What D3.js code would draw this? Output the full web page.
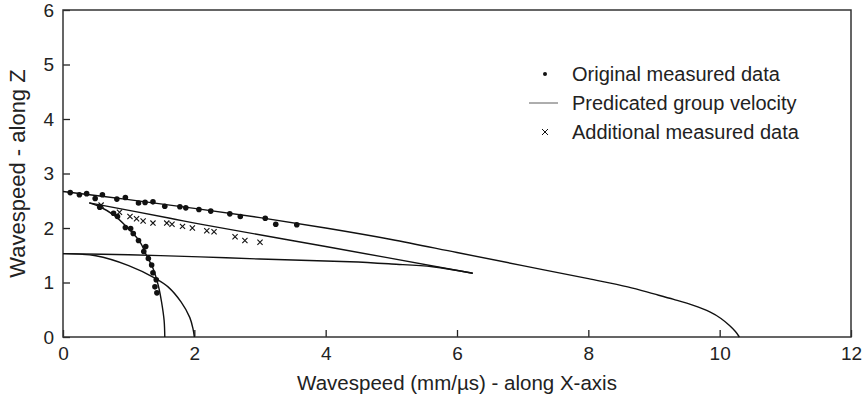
<!DOCTYPE html>
<html>
<head>
<meta charset="utf-8">
<script src="https://cdn.jsdelivr.net/npm/d3@7"></script>
<style>
  body { margin: 0; background: #fff; }
  svg { display: block; font-family: "Liberation Sans", Arial, sans-serif; }
</style>
</head>
<body>
<div id="chart"></div>
<script>
// Predicted group velocity curves (x = along X, y = along Z)
const outerCurve = [[0,2.67],[1,2.52],[2,2.36],[3,2.19],[4,2.0],[5,1.79],[6,1.55],[7,1.31],[8,1.07],
  [8.6,0.92],[9.0,0.79],[9.3,0.69],[9.6,0.58],[9.85,0.46],[10.02,0.34],[10.15,0.21],[10.24,0.1],[10.3,0]];
const cuspUpper = [[0.4,2.46],[1.63,2.18],[2.09,2.07],[4,1.66],[6.24,1.17]];
const cuspLower = [[0,1.53],[1,1.51],[2.09,1.47],[3,1.43],[4.37,1.38],[5.0,1.34],[5.63,1.29],[6.24,1.17]];
const innerEllipse = [[0,1.53],[0.5,1.49],[1.0,1.31],[1.4,1.08],[1.6,0.92],[1.8,0.64],[1.93,0.36],[1.98,0.15],[2.0,0]];
const innerSteep = [[0.4,2.46],[0.56,2.39],[0.77,2.24],[0.97,2.02],[1.17,1.75],[1.27,1.5],[1.37,1.26],
  [1.45,0.95],[1.5,0.65],[1.54,0.3],[1.55,0]];
const curves = [outerCurve, cuspUpper, cuspLower, innerEllipse, innerSteep];

// Original measured data (dots)
const originalData = [[0.11,2.65],[0.25,2.61],[0.36,2.63],[0.49,2.54],[0.60,2.61],[0.82,2.53],[0.95,2.56],
  [1.15,2.46],[1.25,2.47],[1.37,2.48],[1.55,2.40],[1.78,2.39],[1.87,2.37],[2.07,2.34],[2.25,2.31],
  [2.54,2.26],[2.70,2.21],[3.08,2.18],[3.24,2.07],[3.56,2.06],
  [0.56,2.38],[0.77,2.27],[0.83,2.21],[0.95,2.01],[1.03,1.99],[1.07,1.90],[1.15,1.77],[1.26,1.66],
  [1.23,1.57],[1.30,1.44],[1.35,1.32],[1.37,1.18],[1.42,1.05],[1.40,0.92],[1.43,0.81]];

// Additional measured data (crosses)
const additionalData = [[0.58,2.42],[0.86,2.29],[1.02,2.21],[1.12,2.17],[1.22,2.13],[1.37,2.09],[1.58,2.09],
  [1.66,2.07],[1.82,2.03],[1.97,2.00],[2.19,1.95],[2.30,1.93],[2.62,1.84],[2.77,1.77],[3.00,1.74]];

const xTicks = [0, 2, 4, 6, 8, 10, 12];
const yTicks = [0, 1, 2, 3, 4, 5, 6];
const legendLabels = ["Original measured data", "Predicated group velocity", "Additional measured data"];
const legendSymbols = ["dot", "line", "cross"];

const margin = { top: 10, right: 15, bottom: 61, left: 63 };
const width = 866 - margin.left - margin.right;
const height = 398 - margin.top - margin.bottom;

const svg = d3.select("#chart").append("svg")
    .attr("width", 866)
    .attr("height", 398);
const g = svg.append("g").attr("transform", `translate(${margin.left},${margin.top})`);

const x = d3.scaleLinear().domain([0, 12]).range([0, width]);
const y = d3.scaleLinear().domain([0, 6]).range([height, 0]);

// Axes with inward ticks
const xAxis = g.append("g")
    .attr("transform", `translate(0,${height})`)
    .call(d3.axisBottom(x).tickValues(xTicks).tickFormat(d3.format("d"))
        .tickSizeInner(-7).tickSizeOuter(0).tickPadding(10));
const yAxis = g.append("g")
    .call(d3.axisLeft(y).tickValues(yTicks).tickFormat(d3.format("d"))
        .tickSizeInner(-7).tickSizeOuter(0).tickPadding(9));
[xAxis, yAxis].forEach(a => {
    a.select(".domain").remove();
    a.selectAll(".tick line").attr("stroke", "#222").attr("stroke-width", 1.3);
    a.selectAll(".tick text").attr("fill", "#222").style("font-size", "19px");
});

// Frame
g.append("rect")
    .attr("width", width)
    .attr("height", height)
    .attr("fill", "none")
    .attr("stroke", "#333")
    .attr("stroke-width", 1.5);

// Curves
const line = d3.line()
    .x(d => x(d[0]))
    .y(d => y(d[1]))
    .curve(d3.curveCatmullRom.alpha(0.5));
g.selectAll(".curve").data(curves).enter()
    .append("path")
    .attr("class", "curve")
    .attr("fill", "none")
    .attr("stroke", "#111")
    .attr("stroke-width", 1.4)
    .attr("d", line);

// Dots
g.selectAll(".dot").data(originalData).enter()
    .append("circle")
    .attr("class", "dot")
    .attr("cx", d => x(d[0]))
    .attr("cy", d => y(d[1]))
    .attr("r", 2.8)
    .attr("fill", "#111");

// Crosses
const cs = 2.6;
g.selectAll(".cross").data(additionalData).enter()
    .append("path")
    .attr("class", "cross")
    .attr("d", d => {
        const cx = x(d[0]), cy = y(d[1]);
        return `M${cx - cs},${cy - cs}L${cx + cs},${cy + cs}M${cx - cs},${cy + cs}L${cx + cs},${cy - cs}`;
    })
    .attr("stroke", "#111")
    .attr("stroke-width", 1.1)
    .attr("fill", "none");

// Legend
const legend = svg.append("g").attr("transform", "translate(545,74)");
const rows = legend.selectAll(".row").data(legendLabels).enter()
    .append("g")
    .attr("class", "row")
    .attr("transform", (d, i) => `translate(0,${i * 29})`);
rows.each(function(d, i) {
    const r = d3.select(this);
    if (legendSymbols[i] === "dot") {
        r.append("circle").attr("r", 2).attr("fill", "#111");
    } else if (legendSymbols[i] === "line") {
        r.append("line").attr("x1", -16).attr("x2", 13).attr("stroke", "#333").attr("stroke-width", 0.8);
    } else {
        r.append("path").attr("d", "M-3,-3L3,3M-3,3L3,-3").attr("stroke", "#111").attr("stroke-width", 1);
    }
});
rows.append("text")
    .attr("x", 27)
    .attr("y", 7)
    .style("font-size", "20px")
    .attr("fill", "#222")
    .text(d => d);

// Axis titles
svg.append("text")
    .attr("x", margin.left + width / 2)
    .attr("y", 390)
    .attr("text-anchor", "middle")
    .style("font-size", "20.5px")
    .attr("fill", "#222")
    .text("Wavespeed (mm/\u00b5s) - along X-axis");

svg.append("text")
    .attr("transform", `translate(25,${margin.top + height / 2}) rotate(-90)`)
    .attr("text-anchor", "middle")
    .style("font-size", "22px")
    .attr("fill", "#222")
    .text("Wavespeed - along Z");
</script>
</body>
</html>
